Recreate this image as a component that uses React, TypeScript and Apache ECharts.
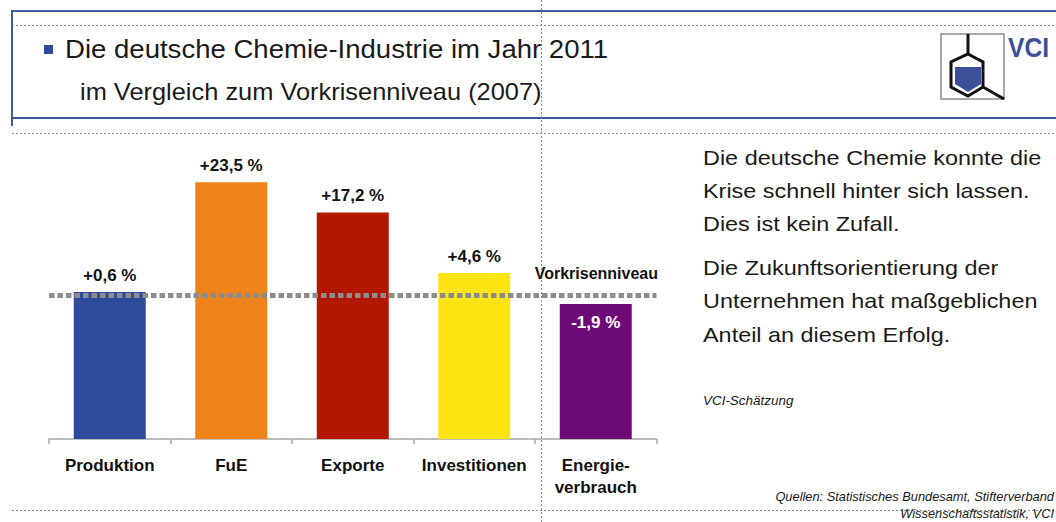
import React, { useEffect, useRef } from 'react';
import * as echarts from 'echarts';

const categories = ['Produktion', 'FuE', 'Exporte', 'Investitionen', 'Energie-\nverbrauch'];
const changePct = [0.6, 23.5, 17.2, 4.6, -1.9];
const barColors = ['#2e4a9a', '#ee8419', '#b31700', '#ffe414', '#6e0a78'];
const referenceLevel = 100;
const referenceLabel = 'Vorkrisenniveau';
const titleText = 'Die deutsche Chemie-Industrie im Jahr 2011';
const subtitleText = 'im Vergleich zum Vorkrisenniveau (2007)';
const noteLines = [
  'Die deutsche Chemie konnte die',
  'Krise schnell hinter sich lassen.',
  'Dies ist kein Zufall.',
  'Die Zukunftsorientierung der',
  'Unternehmen hat maßgeblichen',
  'Anteil an diesem Erfolg.',
];
const noteY = [158, 191, 224, 268, 301, 335];
const estimateNote = 'VCI-Schätzung';
const sourceLines = ['Quellen: Statistisches Bundesamt, Stifterverband', 'Wissenschaftsstatistik, VCI'];

const FONT = '"Liberation Sans", Arial, sans-serif';
const FRAME_BLUE = '#3d5b9c';
const LOGO_BLUE = '#3d4f9a';

const fmtPct = (p: number) => (p >= 0 ? '+' : '-') + Math.abs(p).toFixed(1).replace('.', ',') + ' %';

export default function App() {
  const ref = useRef<HTMLDivElement>(null);
  useEffect(() => {
    if (!ref.current) return;
    const chart = echarts.init(ref.current, undefined, { renderer: 'svg' });

    const dotted = (x1: number, y1: number, x2: number, y2: number) => ({
      type: 'line',
      shape: { x1, y1, x2, y2 },
      style: { stroke: '#8a8a8a', lineWidth: 1, lineDash: [2, 2] },
      silent: true,
    });
    const solid = (x1: number, y1: number, x2: number, y2: number, stroke: string, lineWidth: number) => ({
      type: 'line',
      shape: { x1, y1, x2, y2 },
      style: { stroke, lineWidth },
      silent: true,
    });
    const txt = (text: string, x: number, y: number, fontSize: number, opts: any = {}) => ({
      type: 'text',
      x,
      y,
      scaleX: opts.scaleX ?? 1,
      style: {
        text,
        x: 0,
        y: 0,
        fontSize,
        fontFamily: FONT,
        fontWeight: opts.fontWeight ?? 'normal',
        fontStyle: opts.fontStyle ?? 'normal',
        fill: opts.fill ?? '#1a1a1a',
        align: opts.align ?? 'left',
        verticalAlign: 'middle',
      },
      silent: true,
    });

    const graphic: any[] = [
      // frame
      solid(12, 11, 1056, 11, FRAME_BLUE, 2),
      solid(12, 118, 1056, 118, FRAME_BLUE, 2),
      solid(12, 10, 12, 126, FRAME_BLUE, 2),
      dotted(12, 25.5, 1056, 25.5),
      dotted(12, 133.5, 1056, 133.5),
      dotted(12, 510.5, 1056, 510.5),
      dotted(541.5, 0, 541.5, 522),
      // title
      { type: 'rect', shape: { x: 44, y: 45, width: 9, height: 9 }, style: { fill: '#2e4a9a' }, silent: true },
      txt(titleText, 65, 49, 26, { scaleX: 1.06 }),
      txt(subtitleText, 80, 92, 23, { scaleX: 1.105 }),
      // logo
      { type: 'rect', shape: { x: 941, y: 34, width: 63, height: 65 }, style: { fill: '#fff', stroke: '#8c8c8c', lineWidth: 1.5 }, silent: true },
      {
        type: 'polygon',
        shape: { points: [[955, 67], [981, 67], [981, 84], [968, 92], [955, 84]] },
        style: { fill: LOGO_BLUE },
        silent: true,
      },
      {
        type: 'polygon',
        shape: { points: [[968, 54], [983, 62], [983, 87], [968, 96], [951, 87], [951, 62]] },
        style: { fill: 'none', stroke: '#111', lineWidth: 3 },
        silent: true,
      },
      solid(968, 34, 968, 54, '#111', 3),
      solid(983, 87, 1004, 99, '#111', 3),
      txt('VCI', 1008, 47, 28, { fontWeight: 'bold', fill: LOGO_BLUE, scaleX: 0.88 }),
      // explanatory text
      ...noteLines.map((l, i) => txt(l, 703, noteY[i], 21, { scaleX: 1.115 })),
      txt(estimateNote, 703, 401, 12, { fontStyle: 'italic', scaleX: 1.12 }),
      txt(sourceLines[0], 1054, 497, 12, { fontStyle: 'italic', scaleX: 1.07, align: 'right' }),
      txt(sourceLines[1], 1054, 514, 12, { fontStyle: 'italic', scaleX: 1.07, align: 'right' }),
      // reference label
      txt(referenceLabel, 658, 273, 16, { fontWeight: 'bold', align: 'right', fill: '#111' }),
    ];

    chart.setOption({
      animation: false,
      grid: { left: 49, right: 399.5, top: 151, bottom: 83, containLabel: false },
      xAxis: {
        type: 'category',
        data: categories,
        axisLine: { lineStyle: { color: '#a6a6a6', width: 1.5 } },
        axisTick: { show: true, length: 5, lineStyle: { color: '#a6a6a6', width: 1.5 } },
        axisLabel: {
          interval: 0,
          margin: 15,
          fontSize: 17,
          fontWeight: 'bold',
          fontFamily: FONT,
          color: '#111',
          lineHeight: 22,
        },
      },
      yAxis: { type: 'value', min: 70, max: 130, show: false, splitLine: { show: false } },
      series: [
        {
          type: 'bar',
          barWidth: 72,
          data: changePct.map((p, i) => ({
            value: referenceLevel + p,
            itemStyle: { color: barColors[i] },
            label:
              p >= 0
                ? { position: 'top', distance: 8, color: '#111' }
                : { position: 'insideTop', distance: 10, color: '#fff' },
          })),
          label: {
            show: true,
            fontSize: 17,
            fontWeight: 'bold',
            fontFamily: FONT,
            formatter: (params: any) => fmtPct(changePct[params.dataIndex]),
          },
          markLine: {
            silent: true,
            symbol: 'none',
            data: [{ yAxis: referenceLevel }],
            lineStyle: { color: '#8c8c8c', width: 5, type: [5.5, 3] },
            label: { show: false },
          },
        },
      ],
      graphic,
    });
    return () => chart.dispose();
  }, []);
  return <div ref={ref} style={{ position: 'absolute', left: 0, top: 0, width: 1056, height: 522, background: '#fff' }} />;
}
